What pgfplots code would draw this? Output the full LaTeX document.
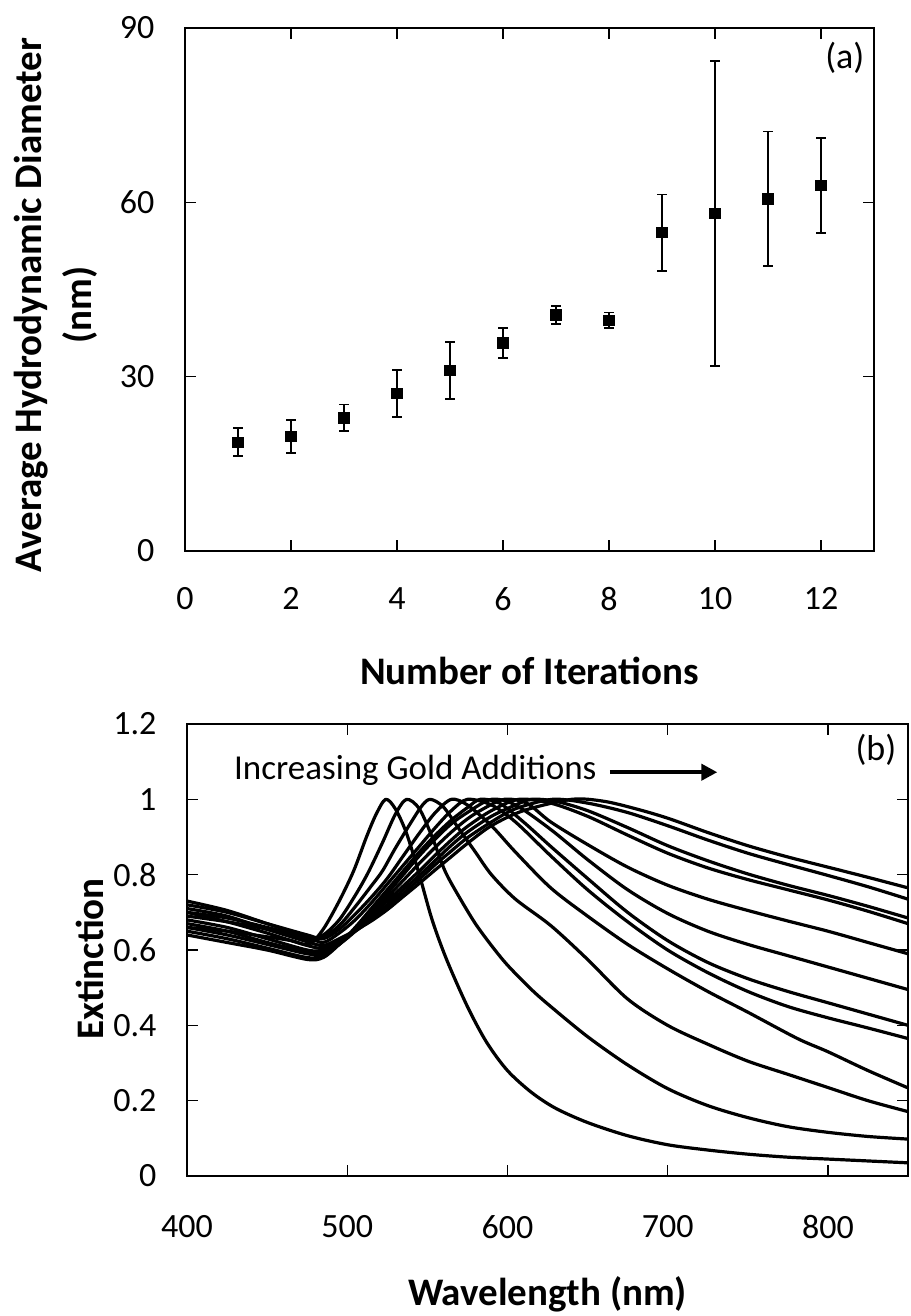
\documentclass[border=0pt]{standalone}
\usepackage{fontspec}
\setmainfont{Carlito}
\usepackage{pgfplots}
\pgfplotsset{compat=1.18}
\usetikzlibrary{arrows.meta}

\pgfplotsset{
  panel/.style={
    scale only axis,
    tick align=inside,
    major tick length=5.5pt,
    tick style={black, line width=0.7pt},
    axis line style={line width=0.8pt},
    /pgf/number format/assume math mode=true,
    tick label style={font=\fontsize{17}{20}\selectfont},
    xticklabel style={yshift=-16.3pt},
    yticklabel style={xshift=-11.8pt},
    label style={font=\bfseries\fontsize{19.5}{25}\selectfont},
  },
  spec/.style={black, line width=1.6pt, smooth, no markers, line join=round},
}

\begin{document}
\begin{tikzpicture}
\useasboundingbox (0,0) rectangle (455pt,-658pt);

% (a) particle size after each growth step
\begin{axis}[
  panel,
  at={(92.5pt,-14pt)}, anchor=north west,
  width=344.5pt, height=261.5pt,
  xmin=0, xmax=13, ymin=0, ymax=90,
  xtick={0,2,4,6,8,10,12}, ytick={0,30,60,90},
  xticklabel style={yshift=1.5pt},
  xlabel={Number of Iterations},
  xlabel style={at={(axis description cs:0.5,-0.2294)}, anchor=center},
  ylabel={Average Hydrodynamic Diameter\\(nm)},
  ylabel style={at={(axis description cs:-0.1872,0.470)}, anchor=center, align=center},
]
\addplot[black, only marks, mark=square*, mark size=2.6pt,
  error bars/.cd, y dir=both, y explicit,
  error bar style={line width=0.9pt, black},
  error mark options={rotate=90, mark size=2.4pt, line width=0.9pt, black}]
  coordinates {
  (1,18.7) +- (0,2.4)
  (2,19.7) +- (0,2.8)
  (3,22.9) +- (0,2.3)
  (4,27.1) +- (0,4.1)
  (5,31.1) +- (0,4.9)
  (6,35.8) +- (0,2.55)
  (7,40.6) +- (0,1.6)
  (8,39.7) +- (0,1.35)
  (9,54.8) +- (0,6.55)
  (10,58.1) +- (0,26.2)
  (11,60.6) +- (0,11.6)
  (12,62.9) +- (0,8.15)
  };
\node[font=\fontsize{18}{22}\selectfont] at (axis cs:12.45,84.8) {(a)};
\end{axis}

% (b) normalised extinction spectra
\begin{axis}[
  panel,
  at={(93.5pt,-362pt)}, anchor=north west,
  width=360.5pt, height=226pt,
  xmin=400, xmax=850, ymin=0, ymax=1.2,
  xtick={400,500,600,700,800}, ytick={0,0.2,0.4,0.6,0.8,1,1.2},
  xlabel={Wavelength (nm)},
  xlabel style={at={(axis description cs:0.5,-0.261)}, anchor=center},
  ylabel={Extinction},
  ylabel style={at={(axis description cs:-0.1345,0.48)}, anchor=center},
]
\addplot[spec] coordinates {(400,0.66)(425,0.65)(450,0.635)(465,0.625)(476,0.615)(485,0.655)(495,0.73)(504,0.81)(512,0.90)(518,0.96)(524,1.0)(530,0.975)(537,0.91)(545,0.80)(553,0.68)(562,0.575)(575,0.45)(587,0.355)(600,0.28)(615,0.222)(630,0.18)(650,0.142)(675,0.107)(700,0.083)(725,0.069)(750,0.058)(775,0.05)(800,0.045)(825,0.04)(850,0.035)};
\addplot[spec] coordinates {(400,0.69)(425,0.675)(450,0.655)(475,0.628)(485,0.64)(495,0.68)(505,0.745)(513,0.805)(522,0.885)(530,0.96)(537,1.0)(545,0.975)(553,0.90)(561,0.81)(570,0.74)(580,0.67)(590,0.612)(600,0.56)(615,0.495)(627,0.45)(650,0.37)(675,0.295)(700,0.232)(725,0.187)(750,0.155)(775,0.131)(800,0.116)(825,0.105)(850,0.098)};
\addplot[spec] coordinates {(400,0.70)(425,0.685)(450,0.66)(475,0.635)(485,0.635)(495,0.665)(505,0.715)(515,0.77)(522,0.81)(530,0.87)(540,0.94)(547,0.985)(552,1.0)(560,0.98)(570,0.92)(580,0.86)(590,0.80)(605,0.735)(627,0.665)(650,0.575)(675,0.47)(700,0.40)(725,0.35)(750,0.305)(775,0.27)(800,0.235)(825,0.20)(850,0.171)};
\addplot[spec] coordinates {(400,0.72)(425,0.70)(450,0.67)(475,0.64)(485,0.63)(495,0.655)(505,0.695)(515,0.74)(525,0.79)(535,0.85)(545,0.91)(555,0.965)(565,1.0)(575,0.985)(590,0.93)(605,0.86)(627,0.765)(650,0.69)(675,0.615)(700,0.55)(725,0.49)(750,0.435)(781,0.365)(800,0.33)(825,0.28)(850,0.234)};
\addplot[spec] coordinates {(400,0.73)(425,0.705)(450,0.67)(475,0.635)(485,0.62)(495,0.645)(505,0.68)(515,0.725)(525,0.775)(535,0.825)(545,0.875)(555,0.925)(565,0.97)(575,1.0)(590,0.985)(605,0.94)(627,0.85)(650,0.76)(675,0.675)(700,0.60)(725,0.54)(750,0.49)(775,0.45)(800,0.42)(825,0.393)(850,0.365)};
\addplot[spec] coordinates {(400,0.64)(425,0.62)(450,0.6)(475,0.575)(485,0.58)(495,0.615)(505,0.66)(515,0.71)(525,0.76)(535,0.81)(545,0.86)(555,0.905)(565,0.945)(575,0.978)(583,1.0)(595,0.99)(610,0.94)(627,0.875)(650,0.79)(675,0.70)(700,0.625)(725,0.567)(750,0.524)(775,0.49)(800,0.46)(825,0.43)(850,0.40)};
\addplot[spec] coordinates {(400,0.65)(425,0.63)(450,0.605)(475,0.58)(485,0.585)(495,0.615)(505,0.655)(515,0.70)(525,0.75)(535,0.80)(545,0.85)(555,0.895)(565,0.935)(575,0.965)(590,1.0)(605,0.985)(627,0.92)(650,0.84)(675,0.76)(700,0.697)(725,0.65)(750,0.615)(775,0.585)(800,0.555)(825,0.525)(850,0.495)};
\addplot[spec] coordinates {(400,0.66)(425,0.64)(450,0.615)(475,0.59)(485,0.59)(495,0.615)(505,0.65)(515,0.695)(525,0.74)(535,0.785)(545,0.83)(555,0.873)(565,0.913)(575,0.948)(585,0.975)(598,1.0)(612,0.99)(627,0.94)(650,0.88)(675,0.82)(700,0.772)(725,0.735)(750,0.705)(775,0.677)(800,0.65)(825,0.62)(850,0.59)};
\addplot[spec] coordinates {(400,0.67)(425,0.65)(450,0.62)(475,0.595)(485,0.595)(495,0.62)(505,0.653)(515,0.69)(525,0.73)(535,0.77)(545,0.81)(555,0.852)(565,0.892)(575,0.928)(590,0.97)(607,1.0)(627,0.99)(650,0.955)(675,0.905)(700,0.857)(725,0.818)(750,0.787)(775,0.76)(800,0.733)(825,0.703)(850,0.67)};
\addplot[spec] coordinates {(400,0.68)(425,0.66)(450,0.63)(475,0.60)(485,0.60)(495,0.622)(505,0.65)(515,0.685)(525,0.72)(535,0.76)(545,0.798)(555,0.838)(565,0.878)(575,0.913)(590,0.955)(605,0.985)(615,1.0)(630,0.995)(650,0.97)(675,0.925)(700,0.877)(725,0.837)(750,0.802)(775,0.772)(800,0.745)(825,0.716)(850,0.685)};
\addplot[spec] coordinates {(400,0.70)(425,0.675)(450,0.645)(475,0.612)(485,0.605)(495,0.625)(505,0.65)(515,0.68)(525,0.715)(535,0.75)(545,0.788)(555,0.827)(565,0.863)(575,0.898)(590,0.94)(605,0.975)(628,1.0)(650,0.99)(675,0.965)(700,0.93)(725,0.892)(750,0.857)(775,0.827)(800,0.798)(825,0.768)(850,0.735)};
\addplot[spec] coordinates {(400,0.71)(425,0.69)(450,0.655)(475,0.622)(485,0.612)(495,0.63)(505,0.652)(515,0.677)(525,0.707)(535,0.742)(545,0.777)(555,0.813)(565,0.848)(575,0.883)(590,0.93)(610,0.97)(640,1.0)(660,0.995)(680,0.975)(700,0.95)(725,0.912)(750,0.877)(775,0.847)(800,0.82)(825,0.793)(850,0.765)};

\node[anchor=base west, font=\fontsize{17.5}{21}\selectfont] at (axis cs:425,1.054) {Increasing Gold Additions};
\draw[line width=2pt, -{Triangle[length=8pt,width=8pt]}] (axis cs:664,1.072) -- (axis cs:731,1.072);
\node[font=\fontsize{18}{22}\selectfont] at (axis cs:830,1.131) {(b)};
\end{axis}
\end{tikzpicture}
\end{document}
